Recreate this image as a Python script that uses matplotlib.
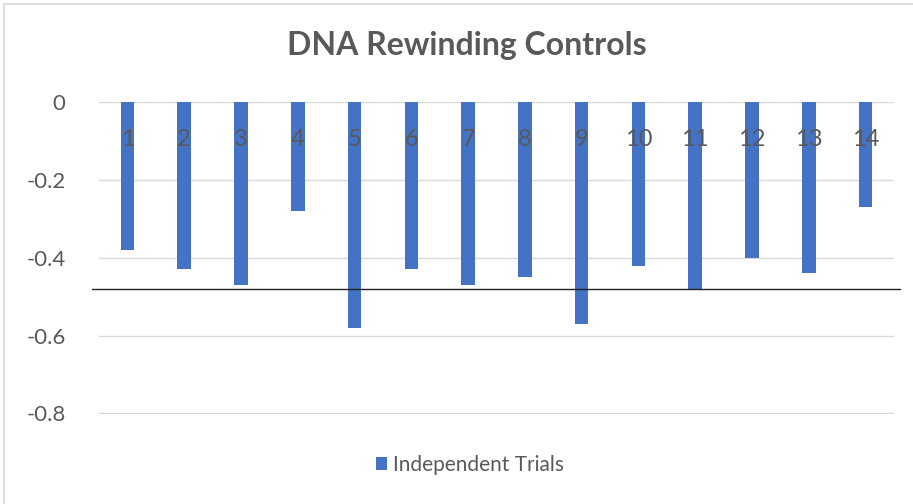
import matplotlib

matplotlib.use("Agg")
import matplotlib.pyplot as plt
from matplotlib.patches import Rectangle

trials = [str(i) for i in range(1, 15)]
values = [-0.38, -0.43, -0.47, -0.28, -0.58, -0.43, -0.47,
          -0.45, -0.57, -0.42, -0.48, -0.40, -0.44, -0.27]
threshold = -0.48
y_ticks = [0, -0.2, -0.4, -0.6, -0.8]

TEXT = "#595959"
plt.rcParams["font.family"] = ["Lato", "DejaVu Sans"]

fig = plt.figure(figsize=(9.13, 5.04), dpi=100)
fig.patch.set_facecolor("white")
fig.patches.append(Rectangle((4 / 913, -0.01), 1.02, 1 - 4 / 504 + 0.01,
                             transform=fig.transFigure, fill=False,
                             edgecolor="#D9D9D9", linewidth=1.2))

ax = fig.add_axes([99 / 913, 1 - 414 / 504, 795 / 913, 312 / 504])
x = list(range(len(trials)))
bars = ax.bar(x, values, width=0.24, color="#4472C4", zorder=2,
              label="Independent Trials")
ax.set_xlim(-0.5, len(trials) - 0.5)
ax.set_ylim(-0.802, 0.001)
ax.set_yticks(y_ticks)
ax.set_yticklabels(["0", "-0.2", "-0.4", "-0.6", "-0.8"])
ax.yaxis.grid(True, color="#D9D9D9", linewidth=1.0)
ax.set_axisbelow(True)
# category labels sit on top of the bars, like the Excel original
ax.xaxis.set_zorder(3)
for side in ("left", "right", "top"):
    ax.spines[side].set_visible(False)
ax.spines["bottom"].set_position(("data", 0))
ax.spines["bottom"].set_visible(False)
ax.set_xticks(x)
ax.set_xticklabels(trials)
ax.tick_params(axis="x", length=0, pad=19, labelsize=17, labelcolor=TEXT)
ax.tick_params(axis="y", length=0, pad=24, labelsize=16, labelcolor=TEXT)

ax.plot([-0.62, 13.6], [threshold, threshold], color="#222222",
        linewidth=1.0, clip_on=False, zorder=4)

fig.text(467 / 913, 1 - 46 / 504, "DNA Rewinding Controls", ha="center",
         va="center", fontsize=23, fontweight="bold", color=TEXT)

fig.legend(handles=[bars], labels=["Independent Trials"],
           loc="center", bbox_to_anchor=(470 / 913, 1 - 465 / 504),
           frameon=False, fontsize=15, handlelength=0.55, handleheight=0.55,
           handletextpad=0.3, labelcolor=TEXT)

fig.savefig("out.png", dpi=100, facecolor="white")
